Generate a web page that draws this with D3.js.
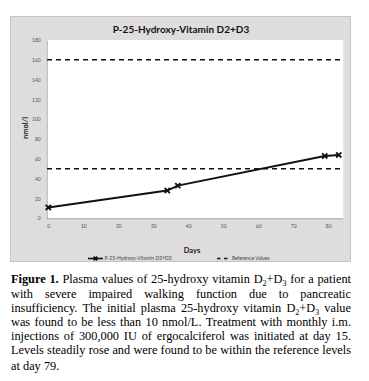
<!DOCTYPE html>
<html><head><meta charset="utf-8">
<script src="https://cdn.jsdelivr.net/npm/d3@7"></script>
<style>html,body{margin:0;padding:0;background:#fff;}svg{display:block;}</style>
</head><body>
<script>
const chartTitle = "P-25-Hydroxy-Vitamin D2+D3";
const days = [0, 34, 37, 79, 83];
const values = [11, 28, 33, 63, 64];
const refValues = [50, 160];
const yTicks = [0, 20, 40, 60, 80, 100, 120, 140, 160, 180];
const xTicks = [0, 10, 20, 30, 40, 50, 60, 70, 80];
const seriesName = "P-25-Hydroxy-Vitamin D2+D3";
const refName = "Reference Values";
const xTitle = "Days";
const yTitle = "nmol/l";
const captionLines = [
  "**Figure 1.** Plasma values of 25-hydroxy vitamin D_2+D_3 for a patient",
  "with severe impaired walking function due to pancreatic",
  "insufficiency. The initial plasma 25-hydroxy vitamin D_2+D_3 value",
  "was found to be less than 10 nmol/L. Treatment with monthly i.m.",
  "injections of 300,000 IU of ergocalciferol was initiated at day 15.",
  "Levels steadily rose and were found to be within the reference levels",
  "at day 79."
];

const W = 369, H = 381;
const svg = d3.select("body").append("svg").attr("width", W).attr("height", H);

// outer chart box
svg.append("rect").attr("x", 10.5).attr("y", 16.5).attr("width", 340).attr("height", 245)
  .attr("fill", "#dedcdc").attr("stroke", "#c4c4c4");

const x = d3.scaleLinear().domain([0, 84.3]).range([48.3, 343.3]);
const y = d3.scaleLinear().domain([0, 180]).range([218.3, 40]);

// plot area
svg.append("rect").attr("x", 46.7).attr("y", 40).attr("width", 343.3 - 46.7).attr("height", 218.3 - 40)
  .attr("fill", "#ffffff");

// title
svg.append("text").attr("x", 181).attr("y", 33).attr("text-anchor", "middle")
  .attr("font-family", "Lato, 'Open Sans', sans-serif").attr("font-weight", "bold")
  .attr("font-size", 10).attr("fill", "#111").text(chartTitle);

// axes
const yAxis = d3.axisLeft(y).tickValues(yTicks).tickSize(0).tickPadding(6);
const gy = svg.append("g").attr("transform", "translate(46.7,0)").call(yAxis);
gy.select(".domain").attr("stroke", "#aaa");
gy.selectAll("text").attr("font-size", 5).attr("font-family", "Lato, sans-serif").attr("fill", "#555");

const xAxis = d3.axisBottom(x).tickValues(xTicks).tickSize(0).tickPadding(6);
const gx = svg.append("g").attr("transform", "translate(0,218.3)").call(xAxis);
gx.select(".domain").attr("stroke", "#aaa").attr("d", "M46.7,0.5H343.3");
gx.selectAll("text").attr("font-size", 5).attr("font-family", "Lato, sans-serif").attr("fill", "#555");

// axis titles
svg.append("text").attr("x", 192).attr("y", 253).attr("text-anchor", "middle")
  .attr("font-family", "Lato, sans-serif").attr("font-weight", "bold").attr("font-size", 7.5)
  .attr("fill", "#222").text(xTitle);
svg.append("text").attr("transform", "translate(27.5,128) rotate(-90)").attr("text-anchor", "middle")
  .attr("font-family", "Lato, sans-serif").attr("font-weight", "bold").attr("font-size", 7.5)
  .attr("fill", "#222").text(yTitle);

// reference lines
svg.selectAll(".ref").data(refValues).enter().append("line")
  .attr("x1", 47).attr("x2", 343).attr("y1", d => y(d)).attr("y2", d => y(d))
  .attr("stroke", "#111").attr("stroke-width", 1.6).attr("stroke-dasharray", "5,4");

// series line
const pts = days.map((d, i) => [d, values[i]]);
svg.append("path").datum(pts)
  .attr("d", d3.line().x(d => x(d[0])).y(d => y(d[1])))
  .attr("fill", "none").attr("stroke", "#111").attr("stroke-width", 2);

function cross(g, cx, cy, s) {
  g.append("path").attr("d", `M${cx - s},${cy - s}L${cx + s},${cy + s}M${cx - s},${cy + s}L${cx + s},${cy - s}`)
    .attr("stroke", "#111").attr("stroke-width", 1.8).attr("fill", "none");
}
pts.forEach(p => cross(svg, x(p[0]), y(p[1]), 2.6));

// legend
const ly = 258.5;
svg.append("line").attr("x1", 88).attr("x2", 103).attr("y1", ly).attr("y2", ly)
  .attr("stroke", "#111").attr("stroke-width", 1.6);
cross(svg, 95.5, ly, 1.8);
svg.append("text").attr("x", 104.5).attr("y", ly + 1.7).attr("font-size", 5)
  .attr("font-family", "Lato, sans-serif").attr("fill", "#444").text(seriesName);
svg.append("line").attr("x1", 217).attr("x2", 228).attr("y1", ly).attr("y2", ly)
  .attr("stroke", "#111").attr("stroke-width", 1.4).attr("stroke-dasharray", "3.5,3.5");
svg.append("text").attr("x", 232).attr("y", ly + 1.7).attr("font-size", 5)
  .attr("font-family", "Lato, sans-serif").attr("fill", "#444").text(refName);

// caption (justified)
const capLeft = 11, capRight = 351;
const baselines = [283.3, 297.5, 311.7, 325.9, 340.1, 354.3, 370.3];
const serif = "'Liberation Serif', 'Times New Roman', serif";
function buildWord(g, word, bold, fs) {
  const t = g.append("text").attr("font-family", serif)
    .attr("font-size", fs).attr("fill", "#000");
  if (bold) t.attr("font-weight", "bold");
  const parts = word.split(/(_\d)/).filter(s => s.length);
  let shift = 0;
  parts.forEach(p => {
    if (p[0] === "_") {
      t.append("tspan").attr("font-size", fs * 0.65).attr("dy", 3 - shift).text(p.slice(1));
      shift = 3;
    } else {
      const ts = t.append("tspan").text(p);
      if (shift) { ts.attr("dy", -shift); shift = 0; }
    }
  });
  return t;
}
function tokenize(line) {
  const tokens = [];
  let rest = line;
  const boldMatch = rest.match(/^\*\*(.+?)\*\*\s*/);
  if (boldMatch) {
    boldMatch[1].split(" ").forEach(w => tokens.push({ w, bold: true }));
    rest = rest.slice(boldMatch[0].length);
  }
  rest.split(" ").filter(s => s.length).forEach(w => tokens.push({ w, bold: false }));
  return tokens;
}
// find a font size so that every justified line keeps a minimum word gap
const baseFs = 13, minGap = 3.2;
let scale = 1;
const probe = svg.append("g");
captionLines.forEach((line, li) => {
  if (li === captionLines.length - 1) return;
  const toks = tokenize(line);
  const tot = d3.sum(toks.map(tk => buildWord(probe, tk.w, tk.bold, baseFs).node().getComputedTextLength()));
  const s = (capRight - capLeft - minGap * (toks.length - 1)) / tot;
  if (s < scale) scale = s;
});
probe.remove();
const fs = baseFs * scale;

captionLines.forEach((line, li) => {
  const g = svg.append("g");
  const tokens = tokenize(line);
  const els = tokens.map(tk => buildWord(g, tk.w, tk.bold, fs));
  const widths = els.map(e => e.node().getComputedTextLength());
  const total = d3.sum(widths);
  const last = li === captionLines.length - 1;
  const gap = last ? fs * 0.25 : (capRight - capLeft - total) / (els.length - 1);
  let cx = capLeft;
  els.forEach((e, i) => {
    e.attr("x", cx).attr("y", baselines[li]);
    e.select("tspan").attr("x", cx);
    cx += widths[i] + gap;
  });
});
</script>
</body></html>
